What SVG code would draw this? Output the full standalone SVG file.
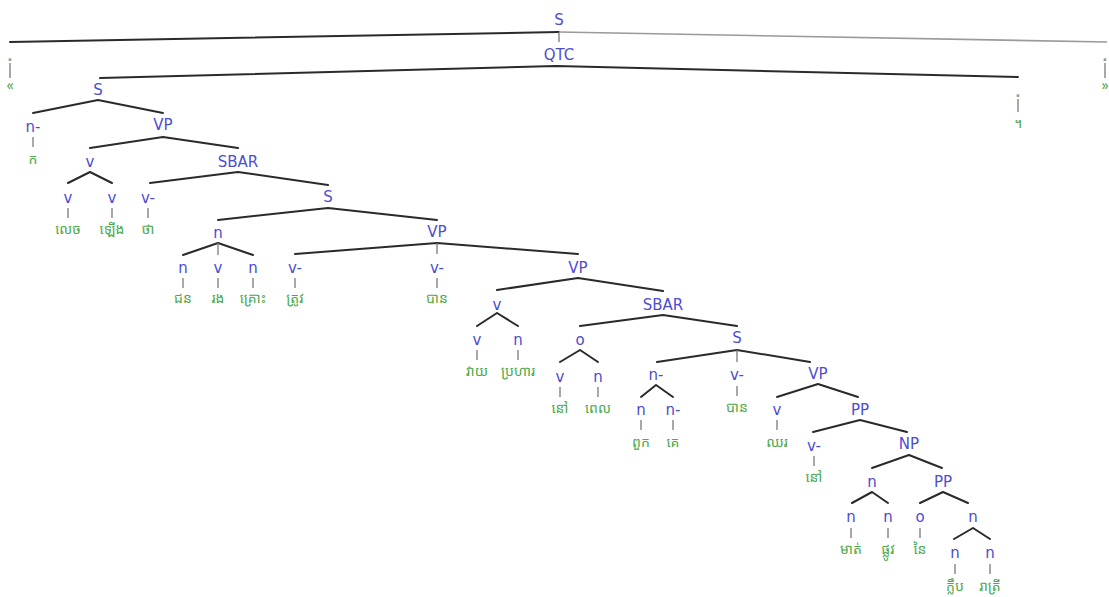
<svg xmlns="http://www.w3.org/2000/svg" width="1109" height="597" viewBox="0 0 1109 597">
  <style>
    .lbl { font-family: "DejaVu Sans", Verdana, sans-serif; font-size: 15px; fill: #4d4dcf; text-anchor: middle; }
    .wd { font-family: "Noto Sans Khmer", "Khmer OS", "DejaVu Sans", sans-serif; font-size: 14px; fill: #4ea84e; text-anchor: middle; }
    .dot { font-family: "DejaVu Sans", sans-serif; font-size: 14px; font-weight: bold; fill: #9a9a9a; text-anchor: middle; }
    .edge { stroke: #2a2a2a; stroke-width: 2; fill: none; stroke-linecap: round; }
    .edge-lt { stroke: #9a9a9a; stroke-width: 1.6; fill: none; }
    .stem { stroke: #7a7a7a; stroke-width: 1.3; fill: none; }
  </style>
  <rect width="1109" height="597" fill="#ffffff"/>

  <!-- branches and leaf stems -->
  <g id="connectors">
    <!-- root S -->
    <path class="edge" d="M559 32 L10 42"/>
    <path class="stem" d="M559 32 V42"/>
    <path class="edge-lt" d="M559 32 L1107 42"/>
    <path class="stem" d="M10 63 V78 M1105 63 V78"/>
    <!-- QTC -->
    <path class="edge" d="M556 66 L100 78 M556 66 L1018 77"/>
    <path class="stem" d="M1018 99 V112"/>
    <!-- S -->
    <path class="edge" d="M98 100 L33 113 M98 100 L163 113"/>
    <path class="stem" d="M33 137 V147"/>
    <!-- VP -->
    <path class="edge" d="M163 137 L90 148 M163 137 L238 148"/>
    <path class="edge" d="M90 172 L68 183 M90 172 L112 183"/>
    <path class="stem" d="M68 208 V218 M112 208 V218 M148 208 V218"/>
    <!-- SBAR -->
    <path class="edge" d="M238 172 L150 183 M238 172 L328 185"/>
    <!-- S -->
    <path class="edge" d="M328 208 L218 220 M328 208 L437 220"/>
    <path class="edge" d="M218 243 L183 255 M218 243 L253 255"/>
    <path class="stem" d="M218 243 V255"/>
    <path class="stem" d="M183 278 V288 M218 278 V288 M253 278 V288 M295 278 V288 M437 278 V288"/>
    <!-- VP -->
    <path class="edge" d="M437 243 L295 254 M437 243 L578 254"/>
    <path class="stem" d="M437 243 V254"/>
    <path class="edge" d="M578 278 L497 290 M578 278 L663 291"/>
    <path class="edge" d="M497 313 L477 326 M497 313 L518 326"/>
    <path class="stem" d="M477 350 V360 M518 350 V360"/>
    <!-- SBAR -->
    <path class="edge" d="M663 315 L580 326 M663 315 L737 326"/>
    <path class="edge" d="M580 350 L560 362 M580 350 L598 362"/>
    <path class="stem" d="M560 387 V397 M598 387 V397"/>
    <!-- S -->
    <path class="edge" d="M737 350 L657 362 M737 350 L810 362"/>
    <path class="stem" d="M737 350 V362"/>
    <path class="edge" d="M656 385 L641 397 M656 385 L673 397"/>
    <path class="stem" d="M641 420 V430 M673 420 V430 M737 386 V396"/>
    <!-- VP -->
    <path class="edge" d="M818 384 L777 397 M818 384 L858 397"/>
    <path class="stem" d="M777 420 V430"/>
    <!-- PP -->
    <path class="edge" d="M860 420 L813 432 M860 420 L907 432"/>
    <path class="stem" d="M814 456 V466"/>
    <!-- NP -->
    <path class="edge" d="M909 455 L872 468 M909 455 L942 468"/>
    <path class="edge" d="M872 492 L852 503 M872 492 L888 503"/>
    <path class="edge" d="M943 492 L920 503 M943 492 L968 503"/>
    <path class="stem" d="M851 528 V538 M888 528 V538 M920 528 V538"/>
    <path class="edge" d="M973 528 L954 539 M973 528 L990 539"/>
    <path class="stem" d="M955 564 V574 M990 564 V574"/>
  </g>

  <!-- phrase nodes -->
  <g id="n-root"><text class="lbl" x="559" y="25">S</text></g>
  <g id="n-qtc"><text class="lbl" x="559" y="60">QTC</text></g>
  <g id="n-s1"><text class="lbl" x="98" y="95">S</text></g>
  <g id="n-vp1"><text class="lbl" x="163" y="130">VP</text></g>
  <g id="n-v1"><text class="lbl" x="90" y="167">v</text></g>
  <g id="n-sbar1"><text class="lbl" x="238" y="167">SBAR</text></g>
  <g id="n-s2"><text class="lbl" x="328" y="202">S</text></g>
  <g id="n-n1"><text class="lbl" x="218" y="238">n</text></g>
  <g id="n-vp2"><text class="lbl" x="437" y="237">VP</text></g>
  <g id="n-vp3"><text class="lbl" x="578" y="273">VP</text></g>
  <g id="n-v2"><text class="lbl" x="497" y="310">v</text></g>
  <g id="n-sbar2"><text class="lbl" x="663" y="310">SBAR</text></g>
  <g id="n-o1"><text class="lbl" x="580" y="345">o</text></g>
  <g id="n-s3"><text class="lbl" x="737" y="343">S</text></g>
  <g id="n-n2"><text class="lbl" x="656" y="380">n-</text></g>
  <g id="n-vp4"><text class="lbl" x="818" y="379">VP</text></g>
  <g id="n-pp1"><text class="lbl" x="860" y="415">PP</text></g>
  <g id="n-np1"><text class="lbl" x="909" y="449">NP</text></g>
  <g id="n-n3"><text class="lbl" x="872" y="487">n</text></g>
  <g id="n-pp2"><text class="lbl" x="943" y="487">PP</text></g>
  <g id="n-n4"><text class="lbl" x="973" y="522">n</text></g>

  <!-- leaves: tag above, word below -->
  <g id="leaf-quote-open"><text class="dot" x="10" y="61">.</text><text class="wd" x="10" y="90">«</text></g>
  <g id="leaf-quote-close"><text class="dot" x="1105" y="61">.</text><text class="wd" x="1105" y="90">»</text></g>
  <g id="leaf-khan"><text class="dot" x="1018" y="97">.</text><text class="wd" x="1018" y="128">។</text></g>
  <g id="leaf-1"><text class="lbl" x="33" y="132">n-</text><text class="wd" x="33" y="164">ក</text></g>
  <g id="leaf-2"><text class="lbl" x="68" y="203">v</text><text class="wd" x="68" y="234">លេច</text></g>
  <g id="leaf-3"><text class="lbl" x="112" y="203">v</text><text class="wd" x="112" y="234">ឡើង</text></g>
  <g id="leaf-4"><text class="lbl" x="148" y="203">v-</text><text class="wd" x="148" y="234">ថា</text></g>
  <g id="leaf-5"><text class="lbl" x="183" y="273">n</text><text class="wd" x="183" y="303">ជន</text></g>
  <g id="leaf-6"><text class="lbl" x="218" y="273">v</text><text class="wd" x="218" y="303">រង</text></g>
  <g id="leaf-7"><text class="lbl" x="253" y="273">n</text><text class="wd" x="253" y="303">គ្រោះ</text></g>
  <g id="leaf-8"><text class="lbl" x="295" y="273">v-</text><text class="wd" x="295" y="303">ត្រូវ</text></g>
  <g id="leaf-9"><text class="lbl" x="437" y="273">v-</text><text class="wd" x="437" y="303">បាន</text></g>
  <g id="leaf-10"><text class="lbl" x="477" y="345">v</text><text class="wd" x="477" y="376">វាយ</text></g>
  <g id="leaf-11"><text class="lbl" x="518" y="345">n</text><text class="wd" x="518" y="376">ប្រហារ</text></g>
  <g id="leaf-12"><text class="lbl" x="560" y="382">v</text><text class="wd" x="560" y="413">នៅ</text></g>
  <g id="leaf-13"><text class="lbl" x="598" y="382">n</text><text class="wd" x="598" y="413">ពេល</text></g>
  <g id="leaf-14"><text class="lbl" x="641" y="415">n</text><text class="wd" x="641" y="447">ពួក</text></g>
  <g id="leaf-15"><text class="lbl" x="673" y="415">n-</text><text class="wd" x="673" y="447">គេ</text></g>
  <g id="leaf-16"><text class="lbl" x="737" y="380">v-</text><text class="wd" x="737" y="412">បាន</text></g>
  <g id="leaf-17"><text class="lbl" x="777" y="415">v</text><text class="wd" x="777" y="447">ឈរ</text></g>
  <g id="leaf-18"><text class="lbl" x="814" y="451">v-</text><text class="wd" x="814" y="482">នៅ</text></g>
  <g id="leaf-19"><text class="lbl" x="851" y="522">n</text><text class="wd" x="851" y="554">មាត់</text></g>
  <g id="leaf-20"><text class="lbl" x="888" y="522">n</text><text class="wd" x="888" y="554">ផ្លូវ</text></g>
  <g id="leaf-21"><text class="lbl" x="920" y="522">o</text><text class="wd" x="920" y="554">នៃ</text></g>
  <g id="leaf-22"><text class="lbl" x="955" y="558">n</text><text class="wd" x="955" y="591">ក្លឹប</text></g>
  <g id="leaf-23"><text class="lbl" x="990" y="558">n</text><text class="wd" x="990" y="591">រាត្រី</text></g>
</svg>
